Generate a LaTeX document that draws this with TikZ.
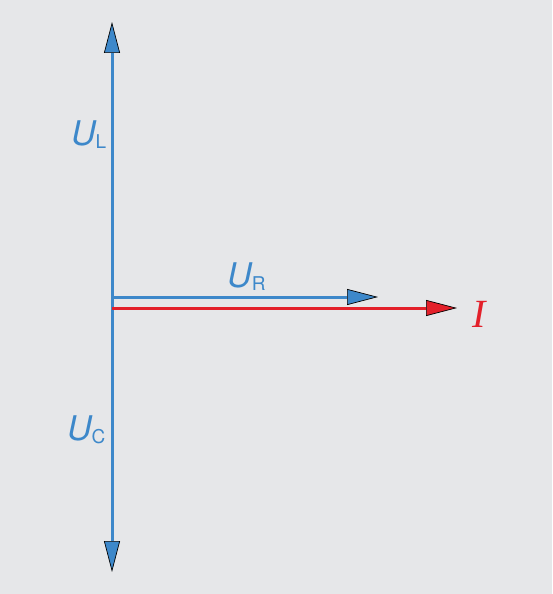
\documentclass[tikz,border=0pt]{standalone}
\usepackage{fontspec}
\setmainfont{Liberation Serif}
\setsansfont{TeX Gyre Heros}
\usetikzlibrary{arrows.meta}
\definecolor{paper}{HTML}{E6E7E9}
\definecolor{phblue}{HTML}{3D88CA}
\definecolor{phred}{HTML}{E3202A}
\newcommand{\volt}[1]{{\sffamily\fontsize{34}{34}\selectfont\itshape U}%
  \raisebox{-3pt}{\sffamily\fontsize{19}{19}\selectfont #1}}
\tikzset{
    phasor/.style={line width=3pt,
      -{Triangle[length=31pt,width=16pt,color=black,fill=#1,line width=0.7pt]},
      draw=#1},
    voltlabel/.style={text=phblue,anchor=base west,inner sep=0pt}
}
\begin{document}
\begin{tikzpicture}[x=1pt,y=-1pt]
  \fill[paper] (0,0) rectangle (552,594);
  \coordinate (o) at (112,297);
  \coordinate (oi) at (112,308);
  \coordinate (tipL) at (112,22);
  \coordinate (tipC) at (112,572);
  \coordinate (tipR) at (378,297);
  \coordinate (tipI) at (457,308);
  % voltages
  \draw[phasor=phblue] (o) -- (tipL);
  \draw[phasor=phblue] (o) -- (tipC);
  \draw[phasor=phred] (oi) -- (tipI);
  \draw[phasor=phblue] (o) -- (tipR);
  % labels
  \node[voltlabel] (uL) at (71,145) {\volt{L}};
  \node[voltlabel] (uC) at (67,440) {\volt{C}};
  \node[voltlabel] (uR) at (227,287) {\volt{R}};
  \node[text=phred,anchor=base west,inner sep=0pt,font=\fontsize{40}{40}\selectfont\itshape]
    (cur) at (472,327) {I};
\end{tikzpicture}
\end{document}
